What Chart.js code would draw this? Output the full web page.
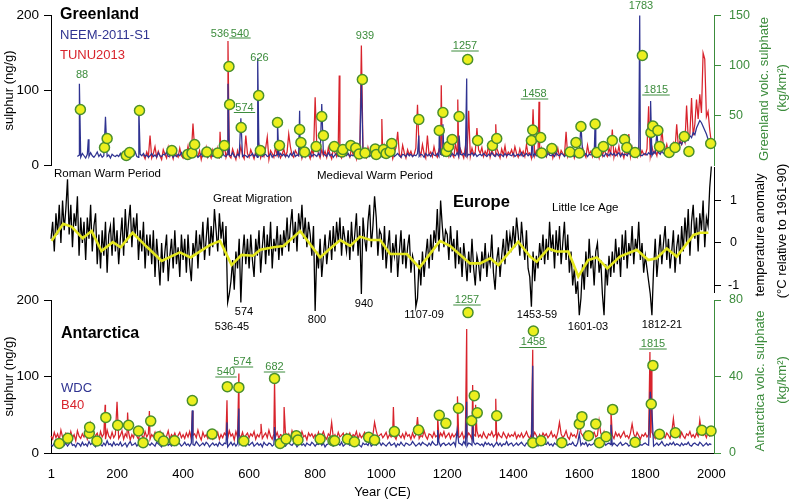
<!DOCTYPE html>
<html><head><meta charset="utf-8">
<script src="https://cdn.jsdelivr.net/npm/chart.js@4.4.1/dist/chart.umd.min.js"></script>
<style>
html,body{margin:0;padding:0;background:#fff;}
#wrap{position:relative;width:792px;height:503px;overflow:hidden;background:#fff;}
#wrap canvas{position:absolute;left:0;top:0;}
</style></head><body>
<div id="wrap">
<canvas id="cBottom" width="792" height="503"></canvas>
<canvas id="cMid" width="792" height="503"></canvas>
<canvas id="cTop" width="792" height="503"></canvas>
</div>
<script>
// ---------------- DATA ----------------
const STEP = 5;
const yearTicks = [1,200,400,600,800,1000,1200,1400,1600,1800,2000];
const sulphurTicks = [0,100,200];
const greenlandVolcTicks = [50,100,150];
const antarcticaVolcTicks = [0,40,80];
const tempTicks = [-1,0,1];

// Greenland NEEM-2011-S1 (ng/g), 5-year steps from 80 CE
const neemStart = 80;
const neem = [
12,14,11,16,13,10,15,12,17,13,11,14,18,12,15,11,13,16,12,14,10,15,13,12,
14,12,16,11,13,17,12,15,10,14,13,18,12,11,15,13,16,12,14,11,
13,16,12,14,11,17,13,12,15,14,18,12,13,16,11,14,12,15,13,17,
12,14,16,11,13,15,12,18,14,11,13,16,12,15,13,11,14,17,12,13,
15,12,14,11,16,13,12,15,14,13,17,12,11,15,13,16,12,14,13,11,
14,13,16,12,15,11,13,17,12,14,15,12,13,16,11,14,13,15,12,16,
13,15,12,14,11,16,13,18,12,14,13,15,11,16,12,14,13,17,12,15,
14,12,16,13,11,15,14,12,17,13,15,11,14,16,12,13,15,12,14,13,
16,12,14,13,15,11,17,13,12,16,14,13,15,12,14,16,11,13,15,14,
12,16,13,14,11,15,13,17,12,14,16,13,11,15,14,12,16,13,15,12,
14,13,16,12,15,14,11,16,13,15,12,17,14,13,16,12,15,14,13,16,
13,15,12,16,14,13,17,12,15,14,16,13,12,15,14,17,13,16,12,14,
15,13,16,14,12,15,13,17,14,12,16,13,15,14,12,16,13,15,14,13,
16,12,14,15,13,17,12,14,16,13,15,14,12,16,13,15,14,17,13,15,
12,16,14,13,15,12,17,14,13,16,15,12,14,16,13,15,14,12,16,14,
15,13,17,14,16,12,15,14,18,13,15,16,13,17,14,12,16,15,13,17,
14,16,13,15,17,12,16,14,15,13,17,14,16,13,15,12,16,14,13,15,
16,14,17,15,13,18,16,14,17,15,19,16,18,17,20,19,22,21,24,23,
26,31,28,34,31,37,34,40,37,44,41,50,55,60,57,52,47,42,35,30,
24];
const neemSpikes = [[86,109],[113,35],[165,65],[266,78],[536,109],[575,63],[626,143],[686,60],[753,73],[820,82],[940,117],[1114,40],[1176,45],[1187,55],[1236,40],[1259,116],[1458,47],[1605,55],[1648,58],[1783,200],[1816,86],[1835,45]];

// Greenland TUNU2013 (ng/g), 5-year steps from 280 CE
const tunuStart = 280;
const tunu = [
14,9,18,12,22,10,16,25,11,19,13,8,21,15,10,24,12,17,9,20,14,11,23,13,
10,19,14,26,11,17,9,22,15,12,20,8,18,13,24,11,16,10,21,14,
12,23,9,17,14,28,11,19,13,10,22,15,8,20,12,25,14,9,18,16,
11,21,15,9,19,13,26,10,17,12,23,14,8,20,16,11,24,13,18,10,
15,22,12,18,9,25,14,11,20,16,13,27,10,19,12,22,15,9,21,14,
12,26,16,10,21,13,19,11,24,15,9,22,17,12,28,14,10,20,13,18,
16,11,23,14,19,9,25,12,17,21,13,10,24,15,20,11,18,14,22,12,
19,10,26,14,16,12,22,9,18,24,13,15,11,27,17,10,21,14,19,12,
15,23,11,20,13,28,16,10,22,14,18,12,25,15,11,21,17,13,26,14,
20,12,24,15,11,29,17,13,22,16,10,25,14,19,12,23,15,18,11,21,
16,24,12,19,14,27,11,20,15,13,23,17,10,22,14,26,12,18,15,21,
13,25,16,11,22,14,19,12,28,15,17,10,24,13,20,16,11,23,14,18,
12,21,15,26,10,18,14,23,11,20,16,13,25,12,19,15,22,10,17,14,
20,13,24,16,11,27,15,19,12,22,14,18,10,25,13,21,16,12,23,15,
18,11,22,14,26,13,17,10,21,15,19,12,24,14,16,11,23,13,20,15,
14,22,17,12,25,16,20,13,27,18,15,23,19,28,17,24,21,30,22,27,
25,33,28,38,31,45,36,42,50,40,55,47,62,52,70,58,85,65,72,48,
30];
const tunuSpikes = [[300,40],[430,56],[512,45],[536,166],[590,40],[655,38],[720,42],[800,91],[873,120],[940,160],[1002,62],[1050,45],[1110,81],[1140,40],[1182,107],[1232,88],[1265,73],[1290,50],[1347,55],[1460,75],[1478,85],[1560,45],[1700,48],[1750,42],[1810,79],[1850,50],[1895,55],[1925,80],[1940,90],[1955,88],[1965,95],[1975,150],[1980,142]];

// Antarctica WDC (ng/g), 5-year steps from 0 CE
const wdcStart = 0;
const wdc = [
11,9,13,10,12,8,14,11,10,13,9,12,15,10,11,8,13,12,9,14,
10,12,9,15,11,13,10,8,14,12,11,9,13,10,16,11,12,9,14,10,
12,10,14,9,11,13,8,12,15,10,11,13,9,12,10,14,11,9,13,12,
10,13,11,9,14,12,10,8,13,11,15,10,12,9,11,14,10,13,12,9,
11,14,10,12,9,13,11,10,15,12,9,11,13,10,14,12,8,11,13,10,
12,9,14,11,10,13,12,8,11,14,10,13,9,12,11,15,10,12,9,13,
10,12,14,9,11,13,10,12,8,14,11,10,13,12,9,11,15,10,12,11,
13,10,9,12,14,11,10,13,12,8,11,14,10,12,9,13,11,10,14,12,
9,12,11,14,10,13,8,11,12,15,10,9,13,11,12,10,14,9,11,13,
12,10,13,9,11,14,12,10,8,13,11,12,10,15,9,11,13,10,12,14,
10,13,11,9,12,14,10,11,13,8,12,10,14,11,9,13,12,10,11,15,
12,9,11,13,10,14,12,11,9,13,10,15,12,10,11,14,9,12,13,10,
11,13,10,12,14,9,11,13,12,10,15,11,9,13,12,10,14,11,13,12,
10,12,9,14,11,13,10,12,8,11,14,10,13,9,12,11,15,10,12,13,
9,11,13,10,12,14,11,9,13,12,10,11,14,10,12,9,13,11,10,12,
11,14,10,12,9,13,11,10,12,15,11,9,13,10,12,11,14,10,9,13,
12,10,13,11,14,9,12,10,11,13,15,10,12,9,11,14,10,12,13,11,
10,13,11,9,12,14,10,11,13,12,9,11,14,10,12,13,9,11,10,12,
13,11,10,14,12,9,11,13,10,12,15,11,9,12,10,13,11,14,10,12,
11,9,13,10,12,11,14,10,9,12,13,11,10,14,12,9,11,13,10,12,
11];
const wdcSpikes = [[428,56],[533,40],[569,58],[677,34],[1171,30],[1230,30],[1259,67],[1277,40],[1459,114],[1600,25],[1696,37],[1815,80],[1820,55]];

// Antarctica B40 (ng/g), 5-year steps from 0 CE
const b40Start = 0;
const b40 = [
22,18,27,20,25,17,30,21,19,26,23,18,28,20,24,16,29,22,19,25,
21,27,18,24,20,32,19,23,26,17,28,21,25,18,30,22,19,27,20,24,
26,19,23,29,18,25,21,27,17,24,20,31,22,18,26,23,19,28,21,25,
18,24,21,27,19,23,28,17,25,20,22,29,18,24,21,26,19,23,27,20,
24,19,26,21,28,18,23,25,20,30,22,17,27,21,24,19,26,22,18,25,
21,27,18,24,20,26,23,19,29,22,25,17,28,21,24,20,27,19,23,26,
20,25,22,28,18,24,21,27,19,23,26,20,30,22,18,25,21,27,19,24,
23,19,27,21,25,18,29,22,20,26,24,19,28,21,23,17,26,22,25,20,
24,20,27,19,23,28,21,18,25,22,30,20,24,19,27,21,23,26,18,25,
21,26,19,24,22,28,18,25,20,23,27,21,19,26,22,24,18,29,21,23,
25,20,23,27,19,24,21,28,22,18,26,23,20,25,19,27,22,24,18,26,
20,24,27,19,23,21,29,22,18,25,24,20,27,21,23,19,26,22,28,20,
23,26,19,25,21,24,28,20,22,27,19,24,21,26,23,18,25,22,29,21,
24,20,27,22,19,25,23,28,21,24,18,26,22,20,27,23,19,25,21,24,
22,27,19,24,21,26,20,23,28,22,19,25,21,27,23,18,24,20,26,22,
25,20,23,28,21,24,19,27,22,25,20,23,29,21,18,26,22,24,20,27,
21,26,23,19,28,22,25,20,24,27,21,23,19,26,22,28,20,24,21,25,
23,19,27,22,25,20,24,28,21,23,19,26,22,25,20,27,23,18,24,22,
26,21,24,20,27,23,19,25,22,28,21,24,20,26,23,19,27,22,25,21,
24,20,27,22,19,25,23,28,21,24,20,26,22,19,27,23,25,20,28,22,
24];
const b40Spikes = [[120,39],[164,63],[200,67],[232,53],[298,55],[428,55],[533,69],[569,104],[636,38],[677,95],[706,60],[850,40],[980,40],[1037,60],[1110,47],[1171,49],[1231,74],[1259,162],[1277,89],[1286,63],[1347,71],[1459,135],[1540,40],[1600,52],[1660,42],[1696,56],[1760,38],[1814,132],[1818,110],[1885,45],[1965,43]];

// Europe temperature anomaly (°C rel. 1961-90), 5-year steps from 0 CE
const tempStart = 0;
const temp = [
0.1,0.5,-0.2,0.7,0.2,0.9,0.0,1.0,0.3,0.8,1.5,0.2,0.9,-0.1,0.7,0.4,1.1,-0.3,0.6,0.0,
0.5,-0.4,0.6,0.1,0.9,-0.2,0.4,0.7,-0.5,0.2,-0.6,0.3,-0.3,0.5,-0.7,0.2,0.4,-0.3,0.6,-0.2,
0.3,-0.5,0.1,0.6,-0.3,0.8,0.0,0.5,0.9,-0.1,0.6,0.2,0.7,-0.4,0.3,-0.2,0.5,-0.6,0.2,-0.3,
0.2,-0.5,0.3,-0.8,0.1,-0.4,-1.0,0.0,-0.7,-0.2,0.2,-0.9,-0.3,0.1,-0.6,0.3,-0.5,-0.1,-0.8,0.2,
-0.4,0.1,-0.7,0.2,-0.5,-0.9,0.0,-0.3,0.3,-0.6,0.2,-0.2,0.5,-0.4,0.1,0.6,-0.3,0.4,-0.1,0.8,
0.3,-0.2,0.7,0.1,0.5,-0.3,0.4,-1.4,-1.2,-0.9,-0.4,-1.1,-0.2,-0.6,0.1,-1.4,-0.3,0.2,-0.5,0.1,
-0.6,0.2,-0.4,-0.8,0.1,-0.3,0.3,-0.7,-0.1,0.4,-0.5,0.2,-0.3,0.5,-0.6,0.1,-0.2,0.4,-0.4,0.2,
-0.3,0.3,-0.1,0.6,-0.2,0.4,0.8,0.0,0.5,-0.2,0.7,0.3,0.9,0.1,0.6,-0.1,0.5,0.2,-0.3,0.4,
-1.6,-0.2,-0.6,0.1,-0.8,-0.3,0.2,-0.5,-0.1,0.3,-0.4,0.4,-0.2,0.5,0.0,0.6,-0.3,0.4,0.1,-0.2,
0.3,-0.4,0.5,-0.2,0.2,0.7,-0.3,0.4,-1.2,0.6,0.1,-0.2,0.5,0.9,-0.1,0.4,1.1,0.6,-0.3,0.3,
0.2,-0.4,0.4,-0.6,-0.1,0.3,-0.7,0.0,-0.3,0.2,-0.8,-0.2,0.3,-0.5,0.1,-0.6,-0.1,0.2,-0.7,-0.3,
-0.5,-1.5,-1.3,-0.4,-1.0,-0.2,-0.8,-0.3,0.1,-0.6,0.2,-0.4,0.3,0.0,0.8,-0.2,1.0,0.4,-0.1,0.3,
0.2,-0.4,0.4,-0.2,0.1,-0.6,0.3,-0.5,-0.1,-0.8,0.0,-0.4,-0.9,-0.2,-0.7,0.1,-0.6,-1.0,-0.3,-0.5,
-0.9,-0.2,-0.6,0.0,-0.8,-0.3,-0.5,0.2,-0.7,-1.1,-0.4,-0.1,-0.8,-0.3,0.1,-0.5,0.3,-0.2,0.2,-0.1,
0.4,-0.1,0.6,0.2,-0.3,0.5,0.0,-0.4,0.3,-0.6,-0.8,-1.5,-0.2,-0.9,-0.3,-0.6,0.0,-0.4,0.2,-0.5,
0.1,-0.4,0.5,-0.2,0.2,-0.6,0.3,-0.3,0.4,-0.5,0.0,0.5,-0.4,0.2,-0.7,-0.2,-1.0,-0.6,-1.2,-0.9,
-1.7,-1.3,-0.5,-1.1,-0.2,-0.8,0.1,-0.6,-0.3,-1.0,-0.2,0.0,-0.7,-0.4,-1.2,-1.7,-0.5,-1.0,-0.3,-0.8,
-0.2,-0.7,0.1,-0.5,-0.1,-0.8,0.2,-0.4,0.3,-0.6,0.0,-0.3,0.4,-0.5,0.1,-0.2,0.5,-0.4,0.0,-0.7,
-0.3,-0.6,-0.9,-1.2,-1.7,-0.6,0.1,-0.8,-0.3,0.2,-0.5,0.0,0.4,-0.4,0.1,-0.6,-0.2,0.3,-0.7,-0.1,
0.2,-0.5,0.4,-0.2,0.6,0.0,0.8,-0.3,0.5,0.9,0.1,0.6,-0.2,0.7,0.3,1.0,-0.1,0.6,0.4,1.3,
1.8];

// Smoothed temperature (yellow line)
const tempSmoothYears = [2,37,63,96,123,153,187,211,247,290,335,390,423,481,512,547,577,612,634,674,704,755,815,850,876,906,936,967,997,1027,1078,1116,1178,1209,1269,1300,1330,1355,1415,1451,1471,1506,1531,1567,1597,1627,1653,1685,1723,1774,1809,1834,1865,1895,1946,1966,1991];
const tempSmooth = [0.05,0.45,0.38,0.11,0.28,-0.19,0.02,-0.10,0.24,-0.09,-0.42,-0.22,-0.34,-0.05,0.05,-0.52,-0.28,-0.30,-0.16,-0.10,-0.07,0.28,-0.34,-0.10,0.07,-0.07,0.15,0.07,0.07,-0.26,-0.26,-0.58,0.05,-0.07,-0.48,-0.48,-0.36,-0.52,0.03,-0.32,-0.44,-0.13,-0.20,-0.20,-0.79,-0.40,-0.34,-0.60,-0.32,-0.16,-0.40,-0.36,-0.13,-0.32,0.19,0.24,0.24];

// Greenland volcanic sulphate (kg/km²)
const greenlandVolcYears = [89,162,170,228,238,268,366,414,427,435,472,505,525,539,541,576,629,634,686,692,753,757,768,803,820,825,858,881,884,908,923,933,943,951,982,985,1007,1015,1027,1032,1114,1176,1187,1197,1204,1215,1236,1262,1292,1337,1350,1455,1459,1483,1486,1517,1572,1590,1600,1605,1648,1653,1673,1700,1737,1744,1769,1791,1817,1823,1838,1843,1872,1890,1918,1932,1998];
const greenlandVolc = [56,18,27,10,13,55,15,11,12.5,21,13.5,12.5,20,99,61,38,70,15,43,20,36,23,13.5,19,49,30,19,13.5,16,20,17.5,11.5,86,12.5,16.5,11,16,12,14,22,46,35,53,14,19,26,49,106,25,20,27,25,35.5,28,12.5,17,13.5,23,12.5,39,41.5,13,19,25,26,18,13,110,33,39.5,35,19,13,18,29,14,22];

// Antarctica volcanic sulphate (kg/km²)
const antarcticaVolcYears = [25,51,116,117,139,166,202,235,265,279,302,327,341,374,428,488,534,569,584,677,694,712,743,748,815,854,859,898,919,962,980,1040,1113,1176,1196,1234,1263,1274,1282,1291,1350,1459,1461,1484,1547,1600,1608,1628,1650,1661,1681,1701,1769,1818,1823,1843,1891,1971,1999];
const antarcticaVolc = [5,7.7,10.3,13.4,6.3,18.6,14.5,14.5,11.5,5.4,16.7,8.5,6.3,6.4,27.4,9.9,34.7,34.3,6.3,39,5,7.3,9,6.8,7.3,6.4,6.4,7.3,5.9,8.2,6.8,11.2,12,19.7,15.5,23.4,73.4,16.9,30,21,19.5,5.4,63.8,6.4,5.4,15.2,19,9,15.2,5.4,8.5,22.8,5.6,25.6,45.8,9.8,10.6,11.9,11.5];

// ---------------- HELPERS ----------------
function series(start, base, spikes) {
  const map = new Map();
  base.forEach((v, i) => map.set(start + i * STEP, v));
  (spikes || []).forEach(([x, y]) => map.set(x, y));
  return [...map.entries()].sort((a, b) => a[0] - b[0]).map(([x, y]) => ({x, y}));
}
function pairs(xs, ys) { return xs.map((x, i) => ({x, y: ys[i]})); }

const FONT = '"Liberation Sans", Arial, Helvetica, sans-serif';
const BLUE = '#2f3391', RED = '#d8232c', GREEN = '#3c8c3c', YEL = '#ecef1e', CIRC = '#4a8f2c', YLINE = '#e3e61c';

function txt(ctx, s, x, y, size, color, align, bold) {
  ctx.save();
  ctx.font = (bold ? 'bold ' : '') + size + 'px ' + FONT;
  ctx.fillStyle = color; ctx.textAlign = align || 'center'; ctx.textBaseline = 'middle';
  ctx.fillText(s, x, y);
  ctx.restore();
}
function utxt(ctx, s, cx, y, uy, size, color) {
  txt(ctx, s, cx, y, size, color, 'center');
  ctx.save();
  ctx.font = size + 'px ' + FONT;
  const w = ctx.measureText(s).width;
  ctx.strokeStyle = color; ctx.lineWidth = 1;
  ctx.beginPath(); ctx.moveTo(cx - w / 2 - 1.5, uy); ctx.lineTo(cx + w / 2 + 1.5, uy); ctx.stroke();
  ctx.restore();
}
function vtxt(ctx, s, cx, cy, size, color) {
  ctx.save();
  ctx.translate(cx, cy); ctx.rotate(-Math.PI / 2);
  ctx.font = size + 'px ' + FONT;
  ctx.fillStyle = color; ctx.textAlign = 'center'; ctx.textBaseline = 'middle';
  ctx.fillText(s, 0, 0);
  ctx.restore();
}
function fixTicks(list) { return s => { s.ticks = list.map(v => ({value: v})); }; }

function sideAxis(pos, min, max, list, color, opts) {
  opts = opts || {};
  return {
    position: pos, min, max,
    afterBuildTicks: fixTicks(list),
    afterFit: s => { s.width = pos === 'left' ? 51 : 78; },
    ticks: {color, font: {family: FONT, size: opts.size || 13.5}, padding: opts.padding || 5,
            crossAlign: opts.crossAlign || 'near', autoSkip: false, callback: v => String(v)},
    grid: {drawOnChartArea: false, tickLength: 7, tickColor: color, color},
    border: {color, width: 1},
    title: opts.title ? {display: true, text: opts.title, color: '#000', font: {family: FONT, size: 13}, padding: {top: 2, bottom: 0}} : {display: false}
  };
}

const common = {
  responsive: false, animation: false, events: [],
  plugins: {legend: {display: false}, tooltip: {enabled: false}},
  elements: {line: {tension: 0}}
};

function circles(xs, ys) {
  return {data: pairs(xs, ys), yAxisID: 'y2', showLine: false, pointRadius: 5, pointBorderWidth: 1.5,
          pointBackgroundColor: YEL, pointBorderColor: CIRC, clip: false};
}
function lineDS(data, color, width, axis) {
  return {data, yAxisID: axis || 'y', borderColor: color, borderWidth: width, pointRadius: 0, fill: false, clip: false};
}

// ---------------- TOP: GREENLAND ----------------
new Chart(document.getElementById('cTop'), {
  type: 'line',
  data: {datasets: [
    circles(greenlandVolcYears, greenlandVolc),
    lineDS(series(neemStart, neem, neemSpikes), BLUE, 1.25),
    lineDS(series(tunuStart, tunu, tunuSpikes), RED, 1.25)
  ]},
  options: Object.assign({}, common, {
    layout: {padding: {top: 13.5, bottom: 337.5, left: 0, right: 0}},
    scales: {
      x: {type: 'linear', min: 0, max: 2008, display: false},
      y: sideAxis('left', 0, 200, sulphurTicks, '#000', {title: 'sulphur (ng/g)'}),
      y2: sideAxis('right', 0, 150, greenlandVolcTicks, GREEN, {size: 12.5, padding: 8})
    }
  }),
  plugins: [{
    id: 'topText',
    afterDraw(chart) {
      const c = chart.ctx;
      txt(c, 'Greenland', 60, 15, 16, '#000', 'left', true);
      txt(c, 'NEEM-2011-S1', 60, 35, 13, BLUE, 'left');
      txt(c, 'TUNU2013', 60, 55, 13, RED, 'left');
      const g = 11;
      txt(c, '88', 82, 75, g, GREEN);
      txt(c, '536', 220, 34, g, GREEN);
      utxt(c, '540', 240, 33.5, 38, g, GREEN);
      utxt(c, '574', 244.5, 108, 112.5, g, GREEN);
      txt(c, '626', 259.5, 58, g, GREEN);
      txt(c, '939', 365, 36, g, GREEN);
      utxt(c, '1257', 465, 46, 51, g, GREEN);
      utxt(c, '1458', 534.5, 94, 99, g, GREEN);
      txt(c, '1783', 641, 6, g, GREEN);
      utxt(c, '1815', 656, 90, 95, g, GREEN);
      vtxt(c, 'Greenland volc. sulphate', 764, 89, 13, GREEN);
      vtxt(c, '(kg/km²)', 782, 88, 13, GREEN);
    }
  }]
});

// ---------------- MIDDLE: EUROPE ----------------
new Chart(document.getElementById('cMid'), {
  type: 'line',
  data: {datasets: [
    lineDS(pairs(tempSmoothYears, tempSmooth), YLINE, 2.6),
    lineDS(series(tempStart, temp, []), '#000', 1.3)
  ]},
  options: Object.assign({}, common, {
    layout: {padding: {top: 167, bottom: 211, left: 51, right: 0}},
    scales: {
      x: {type: 'linear', min: 0, max: 2008, display: false},
      y: sideAxis('right', -1.153, 1.788, tempTicks, '#000', {size: 12.5, padding: 7, crossAlign: 'center'})
    }
  }),
  plugins: [{
    id: 'midText',
    afterDraw(chart) {
      const c = chart.ctx;
      const s = 11.5;
      txt(c, 'Roman Warm Period', 54, 174, s, '#000', 'left');
      txt(c, 'Great Migration', 213, 199, s, '#000', 'left');
      txt(c, 'Medieval Warm Period', 317, 176, s, '#000', 'left');
      txt(c, 'Europe', 453, 202, 16.5, '#000', 'left', true);
      txt(c, 'Little Ice Age', 552, 208, s, '#000', 'left');
      const d = 11;
      txt(c, '574', 244, 312, d, '#000');
      txt(c, '536-45', 232, 327, d, '#000');
      txt(c, '800', 317, 319.5, d, '#000');
      txt(c, '940', 364, 303.5, d, '#000');
      txt(c, '1107-09', 424, 314.5, d, '#000');
      txt(c, '1453-59', 537, 314.5, d, '#000');
      txt(c, '1601-03', 588, 327, d, '#000');
      txt(c, '1812-21', 662, 324.5, d, '#000');
      vtxt(c, 'temperature anomaly', 760, 235, 13, '#000');
      vtxt(c, '(°C relative to 1961-90)', 782, 231, 13, '#000');
    }
  }]
});

// ---------------- BOTTOM: ANTARCTICA ----------------
new Chart(document.getElementById('cBottom'), {
  type: 'line',
  data: {datasets: [
    circles(antarcticaVolcYears, antarcticaVolc),
    lineDS(series(wdcStart, wdc, wdcSpikes), BLUE, 1.25),
    lineDS(series(b40Start, b40, b40Spikes), RED, 1.25)
  ]},
  options: Object.assign({}, common, {
    layout: {padding: {top: 300, bottom: 0, left: 0, right: 0}},
    scales: {
      x: {type: 'linear', min: 0, max: 2008, position: 'bottom',
          afterBuildTicks: fixTicks(yearTicks),
          afterFit: s => { s.height = 50; },
          ticks: {color: '#000', font: {family: FONT, size: 13}, padding: 13.5, autoSkip: false, maxRotation: 0,
                  callback: v => String(v)},
          grid: {drawOnChartArea: false, drawTicks: false},
          border: {color: '#000', width: 1},
          title: {display: true, text: 'Year (CE)', color: '#000', font: {family: FONT, size: 13}, padding: {top: 0, bottom: 2.5}}},
      y: sideAxis('left', 0, 200, sulphurTicks, '#000', {title: 'sulphur (ng/g)'}),
      y2: sideAxis('right', 0, 80, antarcticaVolcTicks, GREEN, {size: 12.5, padding: 8})
    }
  }),
  plugins: [{
    id: 'botText',
    afterDraw(chart) {
      const c = chart.ctx;
      txt(c, 'Antarctica', 61, 333.5, 16, '#000', 'left', true);
      txt(c, 'WDC', 61, 388, 13, BLUE, 'left');
      txt(c, 'B40', 61, 405.5, 13, RED, 'left');
      const g = 11;
      utxt(c, '540', 226, 372, 377, g, GREEN);
      utxt(c, '574', 242.5, 362, 367, g, GREEN);
      utxt(c, '682', 274.5, 367, 372, g, GREEN);
      utxt(c, '1257', 467, 300, 305, g, GREEN);
      utxt(c, '1458', 533, 342, 347.5, g, GREEN);
      utxt(c, '1815', 653, 343.5, 349, g, GREEN);
      vtxt(c, 'Antarctica volc. sulphate', 760, 381, 13, GREEN);
      vtxt(c, '(kg/km²)', 782, 380, 13, GREEN);
    }
  }]
});
</script>
</body></html>
